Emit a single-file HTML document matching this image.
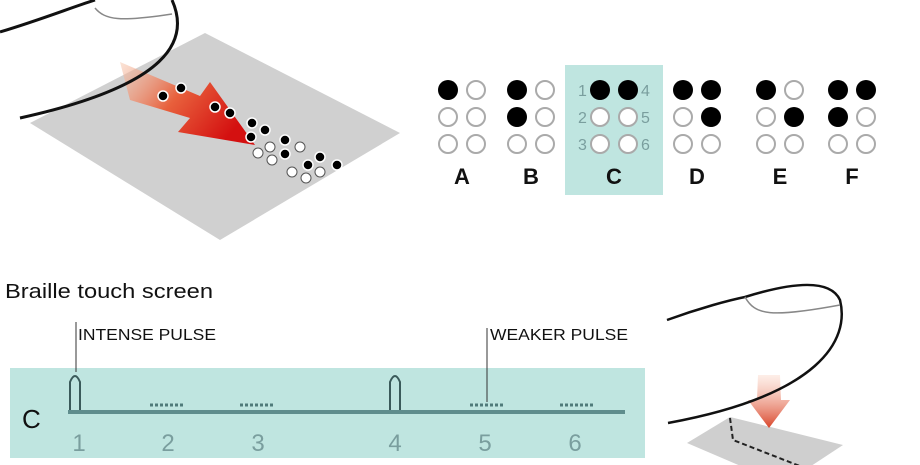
<!DOCTYPE html>
<html><head><meta charset="utf-8"><style>
html,body{margin:0;padding:0;background:#fff;}
svg{display:block;}
text{font-family:"Liberation Sans",sans-serif;}
</style></head><body>
<svg width="920" height="465" viewBox="0 0 920 465" xmlns="http://www.w3.org/2000/svg">
<defs>
<linearGradient id="rg" x1="0" y1="0" x2="1" y2="0.5">
<stop offset="0" stop-color="#f7c9b0" stop-opacity="0.5"/>
<stop offset="0.5" stop-color="#e8603c"/>
<stop offset="1" stop-color="#d41010"/>
</linearGradient>
<linearGradient id="rg2" x1="0" y1="0" x2="0" y2="1">
<stop offset="0" stop-color="#fbd5c5" stop-opacity="0.4"/>
<stop offset="1" stop-color="#d9452a"/>
</linearGradient>
</defs>
<polygon points="30,123 205,33 400,133 220,240" fill="#d0d0d0"/>
<polygon points="120,62 200,96 210,82 255,145 178,132 190,118 130,100" fill="url(#rg)"/>
<g stroke="#fff" stroke-width="1.5">
<circle cx="163" cy="96" r="5" fill="#000"/><circle cx="181" cy="88" r="5" fill="#000"/>
<circle cx="215" cy="107" r="5" fill="#000"/><circle cx="230" cy="113" r="5" fill="#000"/>
<circle cx="252" cy="123" r="5" fill="#000"/><circle cx="265" cy="130" r="5" fill="#000"/>
<circle cx="251" cy="137" r="5" fill="#000"/><circle cx="285" cy="140" r="5" fill="#000"/>
<circle cx="285" cy="154" r="5" fill="#000"/><circle cx="320" cy="157" r="5" fill="#000"/>
<circle cx="308" cy="165" r="5" fill="#000"/><circle cx="337" cy="165" r="5" fill="#000"/>
</g>
<g stroke="#555" stroke-width="1" fill="#fff">
<circle cx="270" cy="147" r="5"/><circle cx="300" cy="147" r="5"/><circle cx="258" cy="153" r="5"/><circle cx="272" cy="160" r="5"/>
<circle cx="292" cy="172" r="5"/><circle cx="306" cy="178" r="5"/><circle cx="320" cy="172" r="5"/>
</g>
<path d="M0,32 C40,20 70,8 95,0" stroke="#111" stroke-width="3" fill="none"/>
<path d="M172,0 C190,40 170,85 20,118" stroke="#111" stroke-width="3" fill="none"/>
<path d="M95,8 C105,20 120,22 172,14" stroke="#888" stroke-width="1.5" fill="none"/>
<rect x="565" y="65" width="98" height="130" fill="#bfe5e0"/>
<g stroke="#aaa" stroke-width="2" fill="#fff">
<circle cx="476" cy="90" r="9"/><circle cx="448" cy="117" r="9"/><circle cx="476" cy="117" r="9"/><circle cx="448" cy="144" r="9"/><circle cx="476" cy="144" r="9"/>
<circle cx="545" cy="90" r="9"/><circle cx="545" cy="117" r="9"/><circle cx="517" cy="144" r="9"/><circle cx="545" cy="144" r="9"/>
<circle cx="600" cy="117" r="9"/><circle cx="628" cy="117" r="9"/><circle cx="600" cy="144" r="9"/><circle cx="628" cy="144" r="9"/>
<circle cx="683" cy="117" r="9"/><circle cx="683" cy="144" r="9"/><circle cx="711" cy="144" r="9"/>
<circle cx="794" cy="90" r="9"/><circle cx="766" cy="117" r="9"/><circle cx="766" cy="144" r="9"/><circle cx="794" cy="144" r="9"/>
<circle cx="866" cy="117" r="9"/><circle cx="838" cy="144" r="9"/><circle cx="866" cy="144" r="9"/>
</g>
<g fill="#000">
<circle cx="448" cy="90" r="10"/><circle cx="517" cy="90" r="10"/><circle cx="517" cy="117" r="10"/>
<circle cx="600" cy="90" r="10"/><circle cx="628" cy="90" r="10"/>
<circle cx="683" cy="90" r="10"/><circle cx="711" cy="90" r="10"/><circle cx="711" cy="117" r="10"/>
<circle cx="766" cy="90" r="10"/><circle cx="794" cy="117" r="10"/>
<circle cx="838" cy="90" r="10"/><circle cx="866" cy="90" r="10"/><circle cx="838" cy="117" r="10"/>
</g>
<g fill="#7a9e9e" font-size="16">
<text x="578" y="96">1</text><text x="578" y="123">2</text><text x="578" y="150">3</text>
<text x="641" y="96">4</text><text x="641" y="123">5</text><text x="641" y="150">6</text>
</g>
<g font-size="22" font-weight="bold" fill="#111" text-anchor="middle">
<text x="462" y="184">A</text><text x="531" y="184">B</text><text x="614" y="184">C</text>
<text x="697" y="184">D</text><text x="780" y="184">E</text><text x="852" y="184">F</text>
</g>
<text x="5" y="298" font-size="20" fill="#111" textLength="208" lengthAdjust="spacingAndGlyphs">Braille touch screen</text>
<text x="78" y="340" font-size="16" fill="#111" textLength="138" lengthAdjust="spacingAndGlyphs">INTENSE PULSE</text>
<text x="490" y="340" font-size="16" fill="#111" textLength="138" lengthAdjust="spacingAndGlyphs">WEAKER PULSE</text>
<rect x="10" y="368" width="635" height="90" fill="#bfe5e0"/>
<line x1="76" y1="322" x2="76" y2="372" stroke="#333" stroke-width="1"/>
<line x1="487" y1="328" x2="487" y2="402" stroke="#333" stroke-width="1"/>
<line x1="68" y1="412" x2="625" y2="412" stroke="#5f8d8d" stroke-width="4"/>
<g stroke="#3a5a5a" stroke-width="2" fill="none">
<path d="M70,410 L70,382 Q75,370 80,382 L80,410"/>
<path d="M390,410 L390,382 Q395,370 400,382 L400,410"/>
</g>
<g stroke="#4f7a7a" stroke-width="3" stroke-dasharray="3,2">
<line x1="150" y1="405" x2="185" y2="405"/><line x1="240" y1="405" x2="275" y2="405"/>
<line x1="470" y1="405" x2="505" y2="405"/><line x1="560" y1="405" x2="595" y2="405"/>
</g>
<text x="22" y="428" font-size="26" fill="#111">C</text>
<g font-size="24" fill="#7a9e9e" text-anchor="middle">
<text x="79" y="451">1</text><text x="168" y="451">2</text><text x="258" y="451">3</text>
<text x="395" y="451">4</text><text x="485" y="451">5</text><text x="575" y="451">6</text>
</g>
<polygon points="687,443 730,417 843,445 805,470 750,470" fill="#cfcfcf"/>
<path d="M730,418 L733,440 L810,470" stroke="#222" stroke-width="2" stroke-dasharray="5,3" fill="none"/>
<polygon points="758,375 780,375 781,400 790,400 769,428 748,400 757,400" fill="url(#rg2)"/>
<path d="M667,320 C700,308 730,300 745,297 C790,283 830,278 840,300 C850,340 820,395 668,423" stroke="#111" stroke-width="2.5" fill="none"/>
<path d="M745,297 C755,315 770,318 840,305" stroke="#888" stroke-width="1.5" fill="none"/>
</svg>
</body></html>
